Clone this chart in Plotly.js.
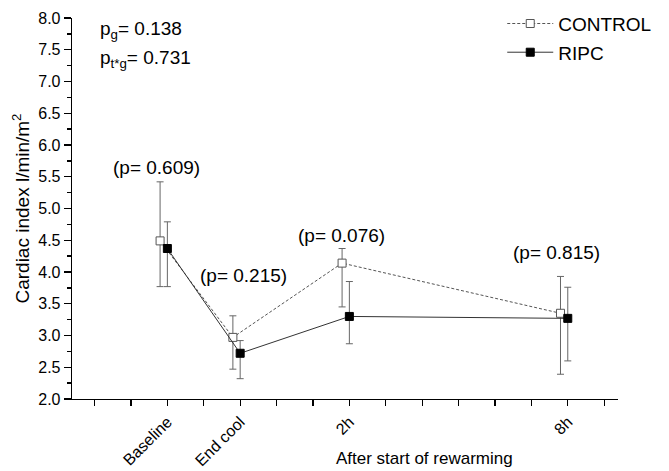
<!DOCTYPE html>
<html>
<head>
<meta charset="utf-8">
<script src="https://cdn.plot.ly/plotly-3.0.1.min.js"></script>
<style>html,body{margin:0;padding:0;background:#fff;}#chart{width:669px;height:471px;}</style>
</head>
<body>
<div id="chart"></div>
<script>
// Time points and their tick positions on the x axis
const timepoints = ['Baseline', 'End cool', '2h', '8h'];
const tickPositions = [2, 4, 7, 13];
const allTicks = [0,1,2,3,4,5,6,7,8,9,10,11,12,13,14];

// CONTROL series (mean, upper and lower error bar ends)
const controlMean  = [4.49, 2.97, 4.14, 3.35];
const controlUpper = [5.42, 3.31, 4.37, 3.93];
const controlLower = [3.77, 2.47, 3.45, 2.39];

// RIPC series
const ripcMean  = [4.37, 2.72, 3.30, 3.27];
const ripcUpper = [4.79, 2.92, 3.85, 3.76];
const ripcLower = [3.77, 2.32, 2.87, 2.60];

// p values per time point
const pValues = ['0.609', '0.215', '0.076', '0.815'];
const pg = '0.138';
const ptg = '0.731';

const controlOffset = -0.2;
const FONT = 'Liberation Sans, Arial, sans-serif';

const controlX = tickPositions.map(v => v + controlOffset);
const ripcX = tickPositions.slice();

const traces = [
  {
    x: controlX, y: controlMean, name: 'CONTROL', mode: 'lines+markers', legendgroup: 'a',
    line: {color: '#555', width: 1, dash: '3px,2px'},
    marker: {symbol: 'square', size: 8, color: '#fff', line: {color: '#555', width: 1}},
    error_y: {type: 'data', symmetric: false,
      array: controlUpper.map((u, i) => u - controlMean[i]),
      arrayminus: controlMean.map((m, i) => m - controlLower[i]),
      color: '#666', thickness: 1, width: 3.5}
  },
  {
    x: ripcX, y: ripcMean, name: 'RIPC', mode: 'lines+markers', legendgroup: 'b',
    line: {color: '#333', width: 1},
    marker: {symbol: 'square', size: 8, color: '#000', line: {color: '#000', width: 1}},
    error_y: {type: 'data', symmetric: false,
      array: ripcUpper.map((u, i) => u - ripcMean[i]),
      arrayminus: ripcMean.map((m, i) => m - ripcLower[i]),
      color: '#666', thickness: 1, width: 3.5}
  }
];

const pLabelPos = [[1.69, 5.65], [4.10, 3.95], [6.77, 4.58], [12.70, 4.30]];
const annotations = pValues.map((p, i) => ({
  x: pLabelPos[i][0], y: pLabelPos[i][1], xref: 'x', yref: 'y',
  text: '(p= ' + p + ')', showarrow: false,
  font: {family: FONT, size: 19, color: '#000'}
}));
annotations.push({
  x: (98 - 72) / 546, y: 1 + (18 - 44) / 381, xref: 'paper', yref: 'paper', xanchor: 'left', yanchor: 'bottom',
  text: 'p<sub>g</sub>= ' + pg, showarrow: false, font: {family: FONT, size: 19, color: '#000'}
});
annotations.push({
  x: (98 - 72) / 546, y: 1 + (18 - 73) / 381, xref: 'paper', yref: 'paper', xanchor: 'left', yanchor: 'bottom',
  text: 'p<sub>t*g</sub>= ' + ptg, showarrow: false, font: {family: FONT, size: 19, color: '#000'}
});
annotations.push({
  x: (424 - 72) / 546, y: (399 - 458) / 381, xref: 'paper', yref: 'paper', xanchor: 'center', yanchor: 'middle',
  text: 'After start of rewarming', showarrow: false, font: {family: FONT, size: 17, color: '#000'}
});

const layout = {
  width: 669, height: 471,
  margin: {l: 72, r: 51, t: 18, b: 72, autoexpand: false},
  paper_bgcolor: '#fff', plot_bgcolor: '#fff',
  showlegend: true,
  legend: {x: 0.788, y: 1.035, xanchor: 'left', yanchor: 'top', bgcolor: 'rgba(0,0,0,0)',
    itemwidth: 46,
    font: {family: FONT, size: 19, color: '#000'}, tracegroupgap: 1, traceorder: 'grouped'},
  xaxis: {
    range: [-0.62, 14.38], showgrid: false, zeroline: false, automargin: false,
    showline: true, linecolor: '#000', linewidth: 1.3,
    tickmode: 'array', tickvals: allTicks,
    ticktext: allTicks.map(t => { const j = tickPositions.indexOf(t); return j >= 0 ? timepoints[j] : ''; }),
    ticks: 'outside', ticklen: 6, tickwidth: 1.3, tickcolor: '#000', tickangle: -45,
    tickfont: {family: FONT, size: 16, color: '#000'}
  },
  yaxis: {
    range: [2, 8], showgrid: false, zeroline: false, automargin: false,
    showline: true, linecolor: '#000', linewidth: 1.3,
    tickmode: 'linear', tick0: 2, dtick: 0.5, tickformat: '.1f',
    ticks: 'outside', ticklen: 7, tickwidth: 1.3, tickcolor: '#000',
    tickfont: {family: FONT, size: 16, color: '#000'},
    minor: {dtick: 0.25, ticks: 'outside', ticklen: 4, tickwidth: 1.3, tickcolor: '#000', showgrid: false},
    title: {text: 'Cardiac index l/min/m<sup>2</sup>', font: {family: FONT, size: 19, color: '#000'}, standoff: 3}
  },
  annotations: annotations
};

Plotly.newPlot('chart', traces, layout, {displayModeBar: false, staticPlot: true});
</script>
</body>
</html>
